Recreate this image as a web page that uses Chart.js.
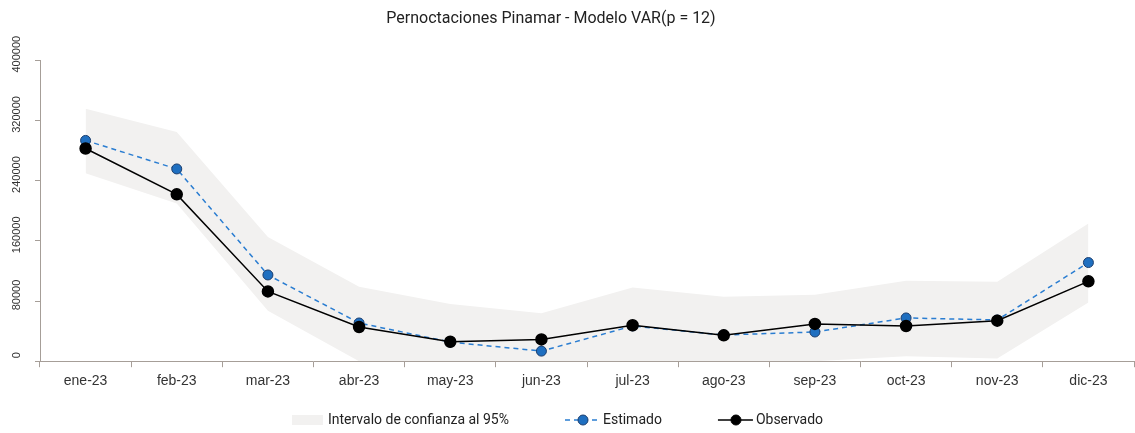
<!DOCTYPE html>
<html>
<head>
<meta charset="utf-8">
<script src="https://cdn.jsdelivr.net/npm/chart.js@4.4.1/dist/chart.umd.min.js"></script>
<style>
  body { margin: 0; background: #fff; }
  #contenedor { width: 1135px; height: 433px; }
</style>
</head>
<body>
<div id="contenedor"><canvas id="grafico" width="1135" height="433"></canvas></div>
<script>
const meses = ['ene-23', 'feb-23', 'mar-23', 'abr-23', 'may-23', 'jun-23', 'jul-23', 'ago-23', 'sep-23', 'oct-23', 'nov-23', 'dic-23'];
const estimado = [293400, 255500, 114600, 50800, 25400, 13400, 46800, 34800, 38800, 57500, 54800, 131100];
const observado = [282700, 221700, 92700, 45500, 25800, 29000, 47800, 34400, 49500, 46800, 53900, 106100];
const limiteSuperior = [335400, 304600, 165000, 99000, 76000, 63800, 98100, 85600, 88300, 107000, 105700, 182900];
const limiteInferior = [249700, 209600, 66900, 0, 0, 0, 0, 0, 0, 6700, 3600, 78000];
const ticksY = [0, 80000, 160000, 240000, 320000, 400000];

const colorBanda = '#f2f1f0';
const colorAzul = '#2a7dd1';
const colorEje = '#a69e98';

// iconos de la leyenda: el dibujo va a la derecha para quedar pegado al texto
function iconoLeyenda(tipo) {
    const c = document.createElement('canvas');
    c.width = 80;
    c.height = 14;
    const ctx = c.getContext('2d');
    if (tipo === 'banda') {
        ctx.fillStyle = colorBanda;
        ctx.fillRect(46, 2, 31, 10);
        return c;
    }
    ctx.lineWidth = 1.5;
    ctx.strokeStyle = tipo === 'estimado' ? colorAzul : '#000';
    ctx.setLineDash(tipo === 'estimado' ? [5, 4] : []);
    ctx.beginPath();
    ctx.moveTo(44, 7);
    ctx.lineTo(79, 7);
    ctx.stroke();
    ctx.setLineDash([]);
    ctx.beginPath();
    ctx.arc(62, 7, 5, 0, Math.PI * 2);
    ctx.fillStyle = tipo === 'estimado' ? '#1f6fc0' : '#000';
    ctx.fill();
    ctx.strokeStyle = tipo === 'estimado' ? '#1c3e6e' : '#000';
    ctx.lineWidth = 1;
    ctx.stroke();
    return c;
}

// corre leyenda y título un poco a la izquierda
const moverBloques = {
    id: 'moverBloques',
    afterLayout(chart) {
        chart.legend.left -= 30;
        chart.legend.right -= 30;
        chart.titleBlock.left -= 16;
        chart.titleBlock.right -= 16;
    }
};

const ctx = document.getElementById('grafico').getContext('2d');
new Chart(ctx, {
    type: 'line',
    data: {
        labels: meses,
        datasets: [
            {
                label: 'Intervalo de confianza al 95%',
                data: limiteSuperior,
                borderWidth: 0,
                pointRadius: 0,
                backgroundColor: colorBanda,
                fill: '+1',
                order: 3
            },
            {
                label: 'inferior',
                data: limiteInferior,
                borderWidth: 0,
                pointRadius: 0,
                fill: false,
                order: 4
            },
            {
                label: 'Estimado',
                data: estimado,
                borderColor: colorAzul,
                borderWidth: 1.5,
                borderDash: [5, 4],
                pointRadius: 5,
                pointBackgroundColor: '#1f6fc0',
                pointBorderColor: '#1c3e6e',
                pointBorderWidth: 1,
                fill: false,
                order: 2
            },
            {
                label: 'Observado',
                data: observado,
                borderColor: '#000',
                borderWidth: 1.5,
                pointRadius: 5.5,
                pointBackgroundColor: '#000',
                pointBorderColor: '#000',
                fill: false,
                order: 1
            }
        ]
    },
    plugins: [moverBloques],
    options: {
        responsive: false,
        animation: false,
        layout: { autoPadding: false, padding: { left: 0, right: 1, top: 0, bottom: -4 } },
        plugins: {
            title: {
                display: true,
                text: 'Pernoctaciones Pinamar - Modelo VAR(p = 12)',
                color: '#222',
                font: { family: 'Roboto', size: 16, weight: 'normal' },
                padding: { top: 9, bottom: 32 }
            },
            legend: {
                position: 'bottom',
                labels: {
                    usePointStyle: true,
                    pointStyleWidth: 70,
                    padding: 17,
                    color: '#222',
                    font: { family: 'Roboto', size: 14 },
                    filter: item => item.text !== 'inferior',
                    generateLabels: chart => chart.data.datasets.map((ds, i) => ({
                        text: ds.label,
                        datasetIndex: i,
                        pointStyle: iconoLeyenda(['banda', 'banda', 'estimado', 'observado'][i]),
                        fontColor: '#222',
                        lineWidth: 0
                    }))
                }
            },
            tooltip: { enabled: false }
        },
        scales: {
            x: {
                offset: true,
                grid: { offset: true, drawOnChartArea: false, color: colorEje, tickLength: 6 },
                border: { color: colorEje },
                ticks: {
                    color: '#333',
                    padding: 6,
                    maxRotation: 0,
                    font: { family: 'Liberation Sans', size: 14 }
                }
            },
            y: {
                min: 0,
                max: 400000,
                afterBuildTicks: escala => {
                    escala.ticks = ticksY.map(v => ({ value: v }));
                },
                afterFit: escala => { escala.width = 40; },
                grid: { drawOnChartArea: false, color: colorEje, tickLength: 5 },
                border: { color: colorEje },
                ticks: {
                    color: '#333',
                    minRotation: 90,
                    maxRotation: 90,
                    crossAlign: 'center',
                    padding: 0,
                    labelOffset: -6,
                    font: { family: 'Liberation Sans', size: 11 },
                    callback: v => String(v)
                }
            }
        }
    }
});
</script>
</body>
</html>
